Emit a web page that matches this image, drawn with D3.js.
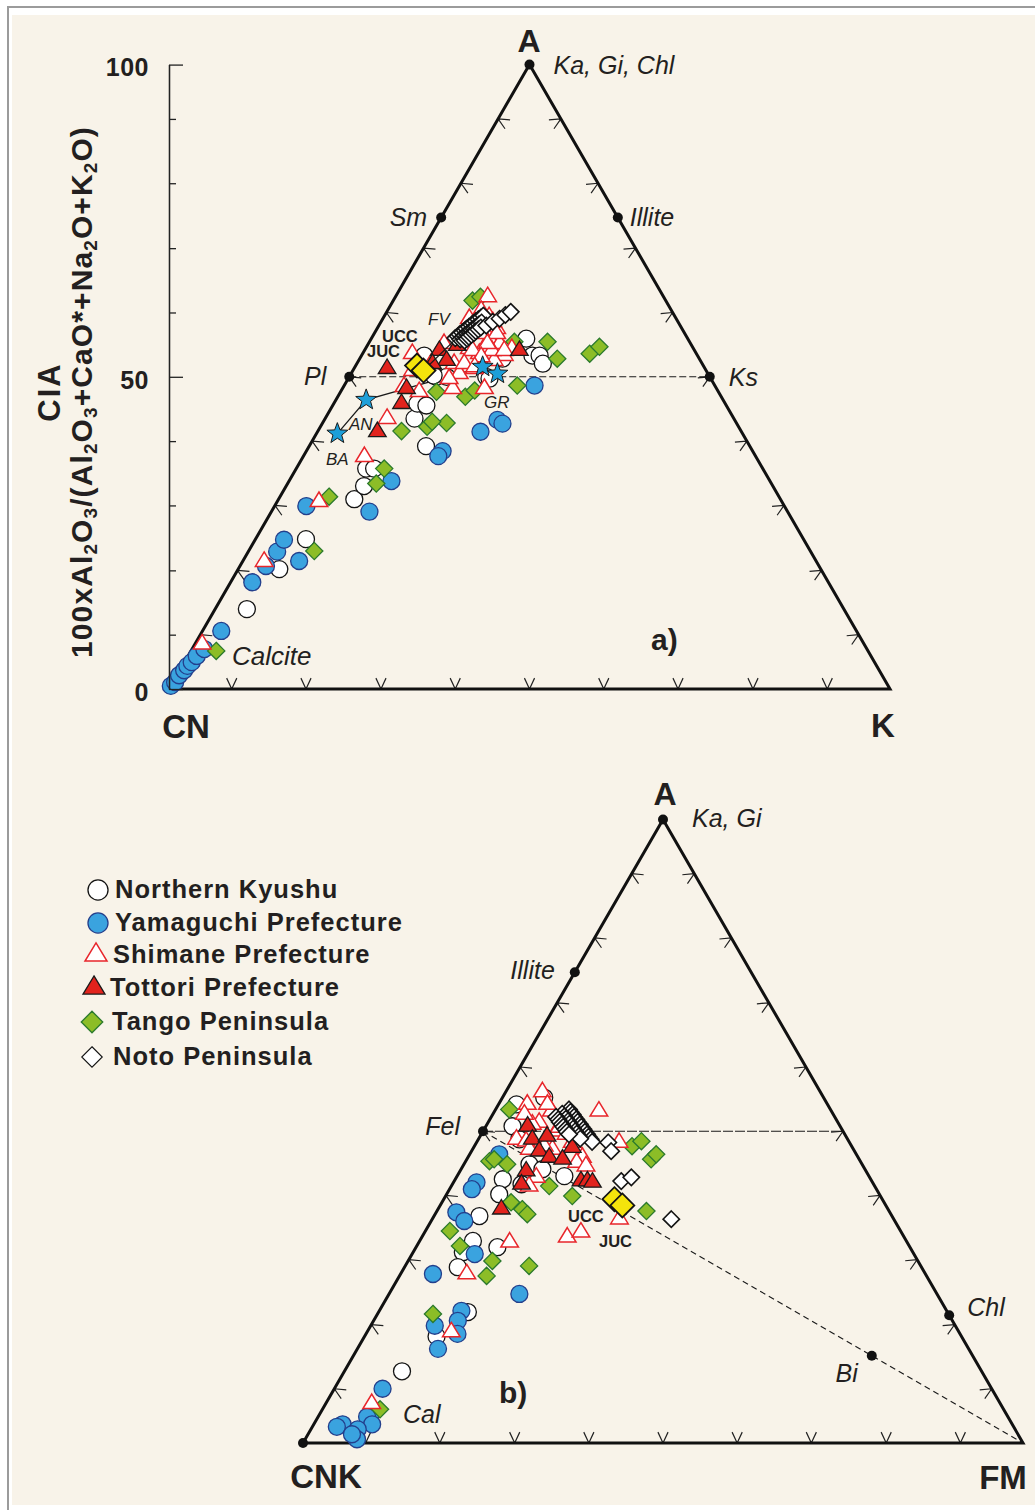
<!DOCTYPE html>
<html>
<head>
<meta charset="utf-8">
<script src="https://cdnjs.cloudflare.com/ajax/libs/d3/7.8.5/d3.min.js"></script>
<style>
  body { margin: 0; background: #fff; }
  svg text { font-family: "Liberation Sans", Arial, Helvetica, sans-serif; fill: #231f20; }
</style>
</head>
<body>
<svg id="chart" width="1035" height="1510"></svg>
<script>
// 系列名称 (legend order)
const seriesNames = ['Northern Kyushu', 'Yamaguchi Prefecture', 'Shimane Prefecture',
  'Tottori Prefecture', 'Tango Peninsula', 'Noto Peninsula']

// a) A-CN-K diagram : [A, K] in %, CN = 100 - A - K
const kyushuA = [[12.8,4.4],[19.2,5.7],[24.0,7.0],[30.4,10.5],[32.5,10.8],[35.3,9.7],[35.3,10.8],
  [38.9,16.2],[43.3,12.4],[45.7,11.6],[45.4,13.0],[50.0,12.1],[50.0,13.5],[50.2,11.6],[50.0,19.0],
  [49.7,19.6],[52.9,19.8],[56.1,21.5],[53.4,23.7],[53.4,24.7],[52.1,25.8],[53.4,8.7]]
const yamaguchiA = [[0.5,0.0],[1.1,0.3],[2.2,0.3],[3.0,0.6],[3.7,0.7],[4.3,1.0],[5.3,1.2],[6.4,1.7],
  [9.3,2.6],[17.1,3.0],[19.7,3.6],[22.0,4.0],[23.9,4.0],[20.5,7.8],[29.3,4.4],[28.4,13.6],[33.3,14.2],
  [38.1,18.9],[37.3,18.7],[41.2,22.6],[43.1,24.0],[42.5,25.0],[48.6,26.4]]
const shimaneA = [[7.2,1.0],[20.4,3.0],[30.0,5.8],[37.2,8.5],[43.3,8.6],[47.6,10.9],[62.8,12.8],
  [59.3,12.0],[57.7,14.2],[57.7,16.6],[56.1,16.4],[55.3,18.2],[54.5,20.3],[53.4,19.8],[52.6,18.8],
  [53.7,16.2],[54.5,14.4],[52.1,13.5],[55.3,10.5],[52.1,10.3],[53.7,6.9],[51.0,8.3],[48.4,8.4],
  [48.1,15.3],[50.5,15.0],[48.1,19.7],[51.3,16.7],[59.6,14.6],[56.1,12.5],[54.2,17.7],
  [60.6,13.0],[58.8,13.0],[58.8,15.5],[56.9,15.0],[56.9,17.0],[55.3,16.5],[54.2,15.0],[53.2,16.7],
  [54.2,19.4],[52.1,14.9],[51.6,16.6],[49.7,14.0]]
const tottoriA = [[51.3,4.6],[48.1,8.9],[45.7,9.4],[41.2,8.3],[54.2,10.4],[52.6,12.2],[55.0,12.5],
  [54.2,21.5],[52.1,10.5]]
const tangoA = [[6.1,3.5],[22.1,9.1],[30.8,6.8],[32.9,12.3],[35.3,12.2],[41.3,11.6],[42.0,14.8],
  [42.6,17.2],[47.6,13.3],[46.8,17.7],[47.8,18.5],[48.6,24.0],[62.2,11.0],[62.8,11.8],[55.6,24.7],
  [52.9,27.4],[53.7,31.5],[54.8,32.3],[55.6,20.1],[42.8,15.1]]
const notoA = [[56.2,11.6],[56.5,11.8],[56.8,11.9],[57.1,12.1],[57.4,12.3],[57.7,12.4],[58.0,12.6],
  [58.3,12.8],[58.6,12.9],[58.9,13.1],[59.2,13.3],[59.5,13.5],[59.8,13.7],
  [56.0,12.4],[56.3,12.6],[56.6,12.7],[56.9,12.9],[57.2,13.1],[57.5,13.2],[57.8,13.4],[58.1,13.6],
  [58.4,13.8],[58.7,14.0],
  [55.8,13.1],[56.1,13.3],[56.4,13.4],[56.7,13.6],[57.0,13.8],[57.3,13.9],[57.6,14.1],[57.9,14.3],
  [58.2,14.9],[58.8,15.5],[59.3,16.2],[59.9,16.7],[60.4,17.2]]

// b) A-CNK-FM diagram : [A, FM] in %, CNK = 100 - A - FM
const kyushuB = [[54.3,2.5],[50.8,3.7],[48.7,5.7],[44.7,9.1],[43.9,11.3],[42.8,14.9],[42.3,6.6],
  [39.9,7.3],[36.4,6.3],[32.4,7.4],[30.6,6.9],[31.4,11.3],[28.2,7.4],[21.0,12.4],[17.1,10.0],
  [11.5,8.0],[41.5,9.6],[55.4,5.8]]
const yamaguchiB = [[46.3,4.1],[41.8,3.2],[40.7,3.1],[37.0,2.8],[35.6,4.6],[30.3,8.7],[27.1,4.5],
  [23.9,18.1],[21.2,11.4],[19.6,11.7],[18.8,8.9],[17.5,12.7],[15.1,11.2],[8.7,6.7],[5.1,7.2],
  [4.2,6.8],[3.0,8.1],[3.0,4.0],[2.6,3.4],[2.2,6.5],[0.6,7.2],[1.4,6.1]]
const shimaneB = [[56.3,5.1],[54.3,4.0],[53.2,7.9],[53.2,14.5],[51.4,7.1],[50.0,10.2],[49.5,11.8],
  [48.7,5.3],[48.4,6.8],[48.2,13.3],[48.2,19.8],[45.8,15.9],[45.0,15.5],[44.4,17.1],[42.6,11.1],
  [41.2,10.8],[32.2,12.6],[33.0,20.2],[33.8,21.7],[35.9,26.0],[27.1,9.2],[17.8,11.7],[6.3,6.4],
  [51.1,6.3],[47.1,11.1],[52.7,4.4],[54.3,6.8],[50.6,10.3],[47.1,7.9],[47.6,9.7]]
const tottoriB = [[50.8,5.8],[48.7,7.5],[49.2,9.3],[46.8,9.4],[45.8,11.3],[47.4,13.7],[45.5,13.3],
  [43.6,9.2],[41.5,9.6],[42.0,17.6],[42.0,18.5],[41.8,19.3],[37.5,8.8]]
const tangoB = [[53.5,1.9],[45.2,3.3],[44.7,6.0],[38.6,9.6],[37.5,11.7],[36.7,12.8],[41.2,13.6],
  [39.6,17.6],[47.6,21.9],[48.4,22.8],[45.5,25.6],[46.3,25.9],[37.2,29.1],[34.0,3.4],[31.6,6.0],
  [29.2,11.7],[26.8,12.1],[28.4,17.2],[20.7,7.7],[5.4,8.0],[45.5,3.8]]
const notoB = [[53.5,10.2],[53.1,10.6],[52.7,11.1],[52.3,11.5],[51.9,12.0],[51.5,12.4],[51.1,12.9],
  [50.7,13.3],[50.3,13.8],[49.9,14.2],[49.5,14.7],[49.1,15.1],[48.7,15.6],[48.3,16.0],
  [52.8,9.6],[52.4,10.1],[52.0,10.5],[51.6,11.0],[51.2,11.4],[50.8,11.9],[50.4,12.3],[50.0,12.8],
  [49.6,13.2],[49.2,13.7],[48.8,14.1],
  [52.3,9.0],[51.9,9.5],[51.5,9.9],[51.1,10.4],[50.7,10.8],[50.3,11.3],[49.9,11.7],[49.5,12.2],
  [48.2,18.3],[46.8,19.4],[42.0,23.2],[42.6,24.3],[35.9,33.2]]

// UCC / JUC reference compositions
const refA = [[51.8,8.5],[51.0,9.8]]
const refB = [[39.1,23.7],[38.1,25.3]]
// rock standards BA, AN, GR (stars) and their trend
const rockStarsA = [[40.9,2.9],[46.3,4.2],[51.6,17.7],[50.5,20.3]]
const rockLineA = [[40.9,2.9],[46.3,4.2],[51.6,17.7]]
const fvLineA = [[51.0,9.8],[58.0,12.5]]

// minerals
const mineralNamesA = ['Ka, Gi, Chl', 'Sm', 'Illite', 'Pl', 'Ks']
const mineralPtsA = [[100,0],[75.5,0],[75.5,24.5],[50,0],[50,50]]
const mineralNamesB = ['Ka, Gi', 'Illite', 'Fel', 'Chl', 'Bi']
const mineralPtsB = [[100,0],[75.5,0],[50,0],[20.5,79.5],[14,72]]

// tick marks on triangle edges (%) and CIA axis
const edgeTicks = [8.7, 19.0, 29.4, 39.7, 50, 60.3, 70.6, 81.0, 91.3]
const ciaMajor = [0, 50, 100]

const svg = d3.select('#chart')

// background + frame
svg.append('rect').attr('x', 0).attr('y', 0).attr('width', 1035).attr('height', 1510).attr('fill', '#fff')
svg.append('rect').attr('x', 12).attr('y', 15).attr('width', 1023).attr('height', 1490).attr('fill', '#f8f3e9')
svg.append('path').attr('d', 'M8,1510V7H1035').attr('fill', 'none').attr('stroke', '#9b9b9b').attr('stroke-width', 2)

// 三角坐标 生成器
function makeTernary(x0, y0, side) {
  const h = side * Math.sqrt(3) / 2
  const sx = d3.scaleLinear().domain([0, 100]).range([x0, x0 + side])
  const sy = d3.scaleLinear().domain([0, 100]).range([y0, y0 - h])
  const p = d => [sx(d[1] + d[0] / 2), sy(d[0])]
  p.sx = sx
  p.sy = sy
  return p
}

const pa = makeTernary(169, 689, 721)
const pb = makeTernary(303, 1443, 720)

// marker shapes
function triPath(w, h) {
  return 'M0,' + (-2 * h / 3) + 'L' + w + ',' + (h / 3) + 'L' + (-w) + ',' + (h / 3) + 'Z'
}
function diaPath(r) {
  return 'M0,' + (-r) + 'L' + r + ',0L0,' + r + 'L' + (-r) + ',0Z'
}
function circPath(r) {
  return d3.symbol(d3.symbolCircle, Math.PI * r * r)()
}
function starPath(R, r) {
  const pts = []
  for (let i = 0; i < 10; i++) {
    const a = -Math.PI / 2 + i * Math.PI / 5
    const rr = i % 2 ? r : R
    pts.push([rr * Math.cos(a), rr * Math.sin(a)])
  }
  return 'M' + pts.map(p => p.join(',')).join('L') + 'Z'
}

const styles = [
  { path: s => circPath(8.5 * s), fill: '#fff', stroke: '#141414', sw: 1.3 },
  { path: s => circPath(8.5 * s), fill: '#3aa3df', stroke: '#233f8c', sw: 1.3 },
  { path: s => triPath(8.8 * s, 14.5 * s), fill: '#fff', stroke: '#e8262b', sw: 1.5 },
  { path: s => triPath(8.8 * s, 14.5 * s), fill: '#e2231d', stroke: '#1a1a1a', sw: 1.3 },
  { path: s => diaPath(8.6 * s), fill: '#8cbd27', stroke: '#2b7a2d', sw: 1.3 },
  { path: s => diaPath(8.2 * s), fill: '#fff', stroke: '#141414', sw: 1.6 }
]
const drawOrder = [0, 1, 4, 2, 3, 5]

function drawTriangle(p, cfg) {
  const g = svg.append('g')
  const vL = p([0, 0]), vR = p([0, 100]), vT = p([100, 0])

  // arrow ticks on each edge, pointing outwards
  const arrow = d3.path()
  const L = 12, sp = 25 * Math.PI / 180
  const addArrow = (pt, n) => {
    const bx = -n[0], by = -n[1]
    for (const s of [-1, 1]) {
      const c = Math.cos(s * sp), sn = Math.sin(s * sp)
      arrow.moveTo(pt[0] + L * (bx * c - by * sn), pt[1] + L * (bx * sn + by * c))
      arrow.lineTo(pt[0], pt[1])
    }
  }
  edgeTicks.forEach(t => {
    addArrow(p([0, t]), [0, 1])
    addArrow(p([t, 0]), [-Math.sqrt(3) / 2, -0.5])
    addArrow(p([t, 100 - t]), [Math.sqrt(3) / 2, -0.5])
  })
  g.append('path').attr('d', arrow.toString()).attr('fill', 'none')
    .attr('stroke', '#222').attr('stroke-width', 1.2)

  // tie lines
  cfg.lines.forEach(l => {
    g.append('path')
      .attr('d', d3.line()(l.pts.map(p)))
      .attr('fill', 'none').attr('stroke', '#1a1a1a')
      .attr('stroke-width', l.w || 1.2)
      .attr('stroke-dasharray', l.dash || null)
  })

  // outline
  g.append('path').attr('d', d3.line()([vL, vR, vT, vL]) + 'Z')
    .attr('fill', 'none').attr('stroke', '#111').attr('stroke-width', 3).attr('stroke-linejoin', 'miter')

  // vertex dots / mineral dots
  g.selectAll('.dot').data(cfg.dots).enter().append('circle')
    .attr('cx', d => p(d)[0]).attr('cy', d => p(d)[1]).attr('r', 5).attr('fill', '#111')

  // mineral labels
  cfg.minerals.forEach((m, i) => {
    const q = p(cfg.mineralPts[i])
    g.append('text').attr('x', q[0] + m.dx).attr('y', q[1] + m.dy)
      .attr('text-anchor', m.anchor || 'start')
      .attr('font-size', 25).attr('font-style', 'italic').text(cfg.mineralNames[i])
  })

  // sample points
  drawOrder.forEach(si => {
    const st = styles[si]
    g.append('g').selectAll('path').data(cfg.series[si]).enter().append('path')
      .attr('transform', d => 'translate(' + p(d) + ')')
      .attr('d', st.path(1))
      .attr('fill', st.fill).attr('stroke', st.stroke).attr('stroke-width', st.sw)
  })

  // extra lines drawn above points
  ;(cfg.topLines || []).forEach(l => {
    g.append('path').attr('d', d3.line()(l.map(p)))
      .attr('fill', 'none').attr('stroke', '#1a1a1a').attr('stroke-width', 1.2)
  })

  // UCC / JUC
  g.append('g').selectAll('path').data(cfg.ref).enter().append('path')
    .attr('transform', d => 'translate(' + p(d) + ')')
    .attr('d', diaPath(12))
    .attr('fill', '#f4e40c').attr('stroke', '#141414').attr('stroke-width', 1.8)

  // stars
  if (cfg.stars) {
    g.append('g').selectAll('path').data(cfg.stars).enter().append('path')
      .attr('transform', d => 'translate(' + p(d) + ')')
      .attr('d', starPath(11, 4.6))
      .attr('fill', '#1d9fd9').attr('stroke', '#1a1a1a').attr('stroke-width', 1)
  }

  // free labels
  cfg.labels.forEach(l => {
    g.append('text').attr('x', l.x).attr('y', l.y)
      .attr('text-anchor', l.anchor || 'start')
      .attr('font-size', l.size)
      .attr('font-weight', l.bold ? 'bold' : null)
      .attr('font-style', l.italic ? 'italic' : null)
      .text(l.t)
  })
  return g
}

// a) A-CN-K
drawTriangle(pa, {
  lines: [
    { pts: [[50, 0], [50, 50]], dash: '7,3', w: 1.1 },
    { pts: rockLineA, w: 1.3 }
  ],
  topLines: [fvLineA],
  dots: [[0, 0], [100, 0], [75.5, 0], [75.5, 24.5], [50, 0], [50, 50]],
  mineralNames: mineralNamesA,
  mineralPts: mineralPtsA,
  minerals: [
    { dx: 24, dy: 9 }, { dx: -14, dy: 8, anchor: 'end' }, { dx: 12, dy: 8 },
    { dx: -23, dy: 8, anchor: 'end' }, { dx: 19, dy: 9 }
  ],
  series: [kyushuA, yamaguchiA, shimaneA, tottoriA, tangoA, notoA],
  ref: refA,
  stars: rockStarsA,
  labels: [
    { t: 'A', x: 529, y: 52, size: 32, bold: true, anchor: 'middle' },
    { t: 'CN', x: 186, y: 738, size: 33, bold: true, anchor: 'middle' },
    { t: 'K', x: 883, y: 737, size: 33, bold: true, anchor: 'middle' },
    { t: 'Calcite', x: 232, y: 665, size: 26, italic: true },
    { t: 'a)', x: 651, y: 650, size: 30, bold: true },
    { t: 'FV', x: 428, y: 325, size: 17, italic: true },
    { t: 'UCC', x: 382, y: 342, size: 16.5, bold: true },
    { t: 'JUC', x: 367, y: 357, size: 16.5, bold: true },
    { t: 'AN', x: 349, y: 430, size: 17, italic: true },
    { t: 'BA', x: 326, y: 465, size: 17, italic: true },
    { t: 'GR', x: 484, y: 408, size: 17, italic: true }
  ]
})

// CIA axis
const ciaAxis = svg.append('g').attr('transform', 'translate(169,0)')
ciaAxis.call(d3.axisLeft(pa.sy).tickValues(edgeTicks.filter(v => v !== 50))
  .tickSizeInner(-7).tickSizeOuter(0).tickFormat(''))
ciaAxis.append('g').call(d3.axisLeft(pa.sy).tickValues(ciaMajor)
  .tickSizeInner(-14).tickSizeOuter(0).tickPadding(20))
ciaAxis.selectAll('path.domain').attr('stroke', '#222').attr('stroke-width', 1.3)
ciaAxis.selectAll('.tick line').attr('stroke', '#222').attr('stroke-width', 1.3)
ciaAxis.selectAll('.tick text').attr('font-size', 25).attr('font-weight', 'bold')
  .attr('letter-spacing', 0.5).attr('dy', '0.45em')
  .attr('font-family', '"Liberation Sans", Arial, sans-serif').attr('fill', '#231f20')

const yTitle = svg.append('g').attr('transform', 'translate(0,392) rotate(-90)')
yTitle.append('text').attr('x', 0).attr('y', 60).attr('text-anchor', 'middle')
  .attr('font-size', 31).attr('font-weight', 'bold').attr('letter-spacing', 2).text('CIA')
const ttl = yTitle.append('text').attr('x', 0).attr('y', 92).attr('text-anchor', 'middle')
  .attr('font-size', 30).attr('font-weight', 'bold').attr('letter-spacing', 1.1)
const titleParts = [['100xAl', 0], ['2', 1], ['O', 0], ['3', 1], ['/(Al', 0], ['2', 1], ['O', 0], ['3', 1],
  ['+CaO*+Na', 0], ['2', 1], ['O+K', 0], ['2', 1], ['O)', 0]]
titleParts.forEach(tp => {
  ttl.append('tspan').attr('font-size', tp[1] ? 19 : 30)
    .attr('baseline-shift', tp[1] ? '-25%' : null)
    .text(tp[0])
})

// b) A-CNK-FM
drawTriangle(pb, {
  lines: [
    { pts: [[50, 0], [50, 50]], dash: '10,2', w: 1.1 },
    { pts: [[50, 0], [0, 100]], dash: '6,4', w: 1.1 }
  ],
  dots: [[0, 0], [100, 0], [75.5, 0], [50, 0], [20.5, 79.5], [14, 72]],
  mineralNames: mineralNamesB,
  mineralPts: mineralPtsB,
  minerals: [
    { dx: 29, dy: 8 }, { dx: -20, dy: 7, anchor: 'end' }, { dx: -23, dy: 4, anchor: 'end' },
    { dx: 18, dy: 1 }, { dx: -14, dy: 26, anchor: 'end' }
  ],
  series: [kyushuB, yamaguchiB, shimaneB, tottoriB, tangoB, notoB],
  ref: refB,
  labels: [
    { t: 'A', x: 665, y: 805, size: 32, bold: true, anchor: 'middle' },
    { t: 'CNK', x: 326, y: 1488, size: 33, bold: true, anchor: 'middle' },
    { t: 'FM', x: 1003, y: 1489, size: 33, bold: true, anchor: 'middle' },
    { t: 'Cal', x: 403, y: 1423, size: 25, italic: true },
    { t: 'b)', x: 499, y: 1403, size: 30, bold: true },
    { t: 'UCC', x: 568, y: 1222, size: 16.5, bold: true },
    { t: 'JUC', x: 599, y: 1247, size: 16.5, bold: true }
  ]
})

// legend
const legendSymX = [98, 98, 96, 94, 92, 92]
const legendTextX = [115, 115, 113, 110, 112, 113]
const legendY = [890, 923, 955, 988, 1022, 1057]
const legend = svg.append('g')
seriesNames.forEach((name, i) => {
  const st = styles[i]
  legend.append('path').attr('d', st.path(i < 2 ? 1.18 : 1.25))
    .attr('transform', 'translate(' + legendSymX[i] + ',' + legendY[i] + ')')
    .attr('fill', st.fill).attr('stroke', st.stroke).attr('stroke-width', i === 5 ? 1.1 : st.sw)
  legend.append('text').attr('x', legendTextX[i]).attr('y', legendY[i] + 8)
    .attr('font-size', 25.5).attr('font-weight', 'bold').attr('letter-spacing', 1).text(name)
})
</script>
</body>
</html>
